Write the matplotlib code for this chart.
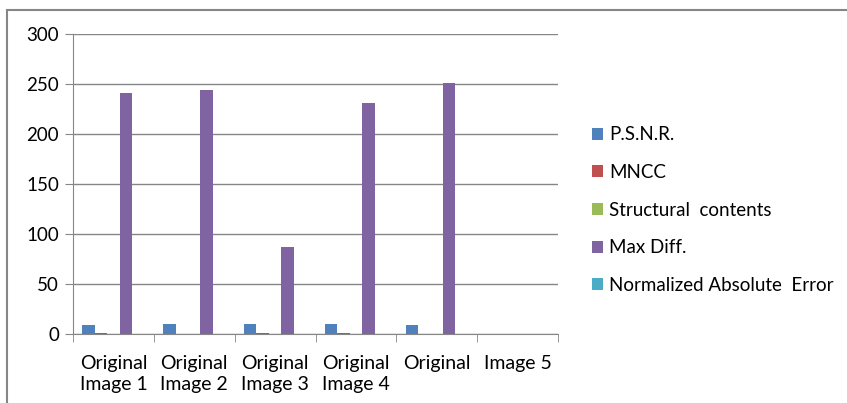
import numpy as np
import matplotlib.pyplot as plt

categories = ['Original\nImage 1', 'Original\nImage 2', 'Original\nImage 3',
              'Original\nImage 4', 'Original', 'Image 5']
series = ['P.S.N.R.', 'MNCC', 'Structural  contents', 'Max Diff.',
          'Normalized Absolute  Error']
psnr = [8.7, 9.6, 10.5, 9.7, 9.5, 0]
mncc = [1.0, 0.2, 1.0, 1.0, 0.2, 0]
structural = [0, 0, 0, 0, 0, 0]
max_diff = [241.5, 244, 87, 231.5, 251.5, 0]
nae = [0, 0, 0, 0, 0, 0]

values = [psnr, mncc, structural, max_diff, nae]
colors = ['#4F81BD', '#C0504D', '#9BBB59', '#8064A2', '#4BACC6']

plt.rcParams['font.family'] = ['Lato', 'DejaVu Sans']

fig = plt.figure(figsize=(8.47, 4.03), dpi=100)
ax = fig.add_axes([0.0862, 0.1712, 0.5726, 0.7444])

# outer chart frame
fig.patches.append(plt.Rectangle((7 / 847, -0.1), 2, (403 - 10) / 403 + 0.1,
                                 transform=fig.transFigure, fill=False,
                                 edgecolor='#868686', linewidth=1.5))

n = len(series)
width = 1 / 6.5
x = np.arange(len(categories))
for i, (name, vals, c) in enumerate(zip(series, values, colors)):
    offs = (i - (n - 1) / 2) * width
    ax.bar(x + offs, vals, width=width, color=c, label=name, zorder=3)

ax.set_xlim(-0.5, len(categories) - 0.5)
ax.set_ylim(0, 300)
ax.set_yticks(range(0, 301, 50))
ax.set_xticks(x)
ax.set_xticklabels(categories, fontsize=14, linespacing=1.3)
ax.set_xticks(np.arange(-0.5, len(categories), 1), minor=True)
ax.tick_params(axis='x', which='major', length=0, pad=15)
ax.tick_params(axis='x', which='minor', length=6, color='#868686')
ax.tick_params(axis='y', length=6, color='#868686', labelsize=13.5, pad=4)

ax.grid(axis='y', color='#868686', linewidth=1, zorder=0)
for s in ['top', 'right']:
    ax.spines[s].set_visible(False)
for s in ['left', 'bottom']:
    ax.spines[s].set_color('#868686')

ax.legend(loc='center left', bbox_to_anchor=(1.055, 0.163, 0.5, 0.5),
          frameon=False, fontsize=13.5, handlelength=0.6, handleheight=0.6,
          handletextpad=0.3, labelspacing=1.1, borderaxespad=0)

fig.savefig('out.png', dpi=100)
